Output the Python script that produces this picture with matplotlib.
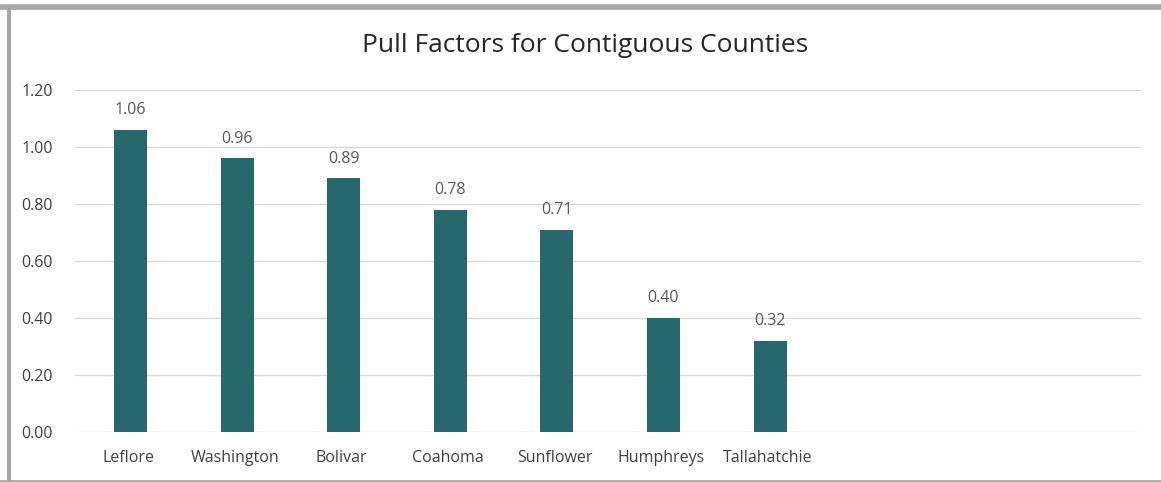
import matplotlib.pyplot as plt
from matplotlib.lines import Line2D

# datos
condados = ["Leflore", "Washington", "Bolivar", "Coahoma", "Sunflower",
            "Humphreys", "Tallahatchie", "", "", ""]
valores = [1.06, 0.96, 0.89, 0.78, 0.71, 0.40, 0.32, None, None, None]
yticks = [0.0, 0.2, 0.4, 0.6, 0.8, 1.0, 1.2]

plt.rcParams['font.family'] = ['Open Sans', 'DejaVu Sans']

fig = plt.figure(figsize=(11.61, 4.82), dpi=100)
ax = fig.add_axes([75/1161, 1 - 431.7/482, 1066/1161, 341.7/482])

x = list(range(len(condados)))
xs = [i for i, v in zip(x, valores) if v is not None]
vs = [v for v in valores if v is not None]
ax.bar([i + 0.02 for i in xs], vs, width=0.31, color="#26686b", zorder=3)
for xi, v in zip(xs, vs):
    ax.text(xi + 0.02, v + 0.04, f"{v:.2f}", ha="center", va="bottom",
            fontsize=11.5, color="#595959")

ax.set_xlim(-0.5, len(condados) - 0.5)
ax.set_ylim(0, 1.2)
ax.set_yticks(yticks)
ax.set_yticklabels([f"{t:.2f}" for t in yticks])
ax.set_xticks(x)
ax.set_xticklabels(condados)
ax.tick_params(axis="both", length=0, labelsize=11.5, colors="#404040")
ax.tick_params(axis="y", pad=16)
ax.tick_params(axis="x", pad=13)
ax.grid(axis="y", color="#d9d9d9", linewidth=1, zorder=0)
for s in ax.spines.values():
    s.set_visible(False)

fig.text(585/1161, 1 - 45/482, "Pull Factors for Contiguous Counties",
         ha="center", va="center", fontsize=19, color="#262626")

# marco gris (arriba, izquierda, abajo)
gris = "#a6a6a6"
fig.add_artist(Line2D([0, 1], [1 - 6.5/482] * 2, transform=fig.transFigure,
                      color=gris, linewidth=4))
fig.add_artist(Line2D([8.5/1161] * 2, [0, 1 - 6.5/482], transform=fig.transFigure,
                      color=gris, linewidth=3))
fig.add_artist(Line2D([0, 1], [1.5/482] * 2, transform=fig.transFigure,
                      color=gris, linewidth=2))

fig.savefig("out.png", dpi=100)
